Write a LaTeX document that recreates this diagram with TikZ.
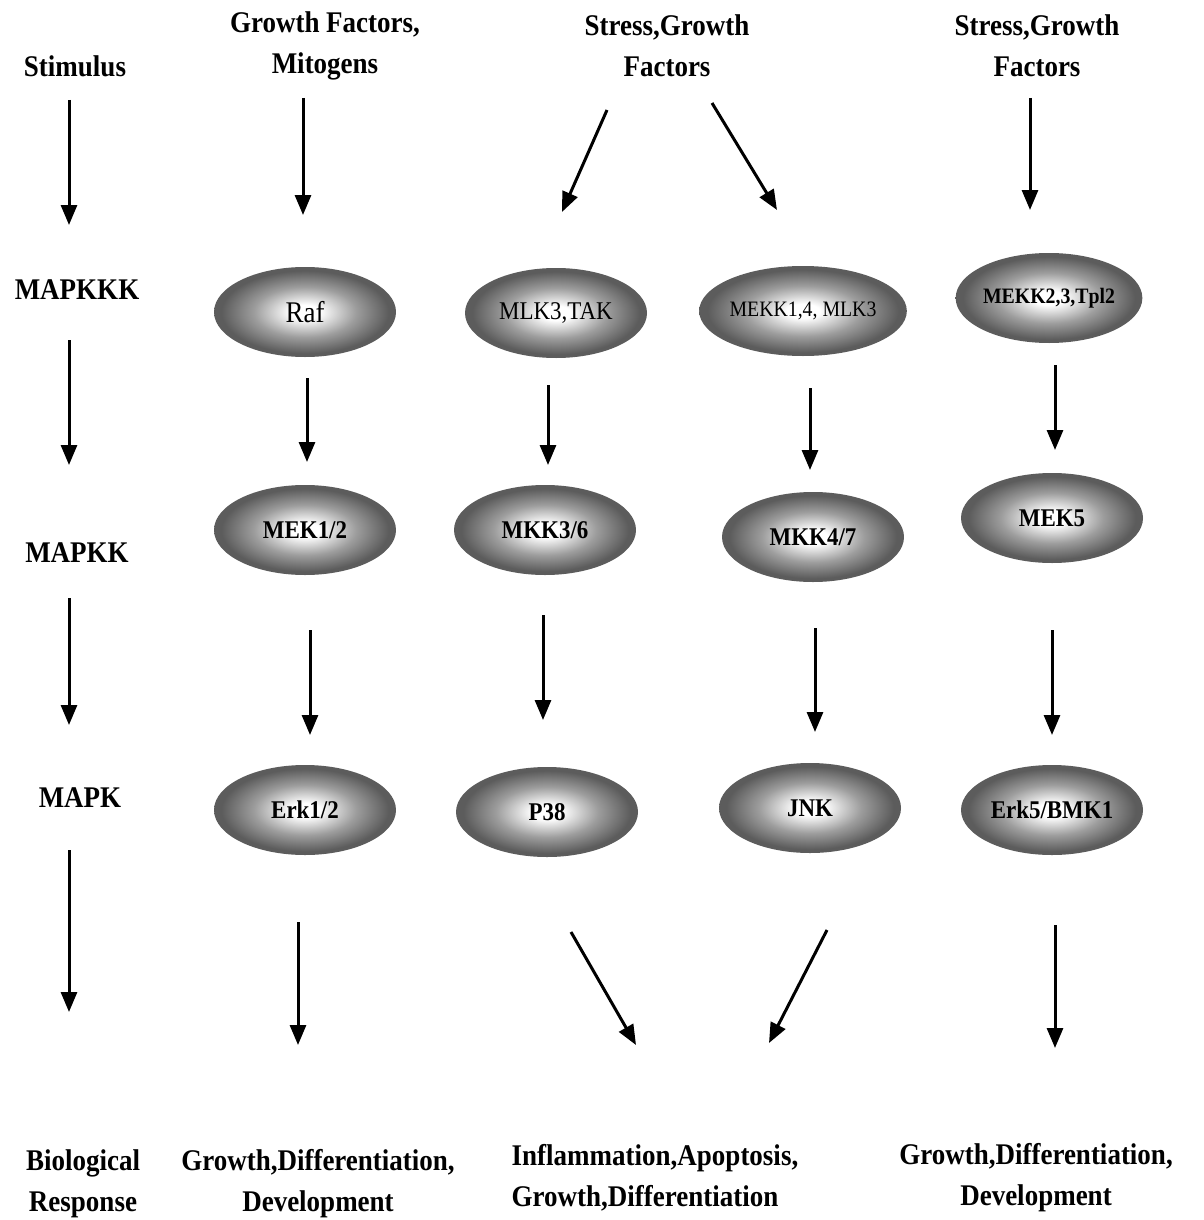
\documentclass[tikz,border=0pt]{standalone}
\usepackage{fontspec}
\setmainfont{Liberation Serif}[FakeStretch=0.9]
\usetikzlibrary{arrows.meta,shapes.geometric}

\definecolor{ovalgray}{RGB}{92,92,92}
\pgfdeclareradialshading{ovalshade}{\pgfpoint{0bp}{0bp}}{color(0bp)=(white); color(4bp)=(white); color(14bp)=(ovalgray!60!white); color(23bp)=(ovalgray); color(50bp)=(ovalgray)}

\tikzset{
	lbl/.style={font=\fontsize{30}{41}\selectfont\bfseries, align=center},
	oval/.style={ellipse, minimum width=182pt, minimum height=90pt, inner sep=0pt, shading=ovalshade, font=\fontsize{25.5}{28}\selectfont\bfseries},
	arr/.style={line width=3pt, -{Triangle[length=20pt,width=16pt]}}
}

\begin{document}
\begin{tikzpicture}[x=1pt,y=-1pt]
	\useasboundingbox (0,0) rectangle (1203,1220);
	\fill[white] (0,0) rectangle (1203,1220);
	
	% left column
	\node[lbl] (stim) at (75,66) {Stimulus};
	\node[lbl] (mapkkk) at (77,290) {MAPKKK};
	\node[lbl] (mapkk) at (77,553) {MAPKK};
	\node[lbl] (mapk) at (80,798) {MAPK};
	\node[lbl] (bio) at (83,1184) {Biological\\Response};
	
	% stimuli
	\node[lbl] (gf) at (325,46) {Growth Factors,\\Mitogens};
	\node[lbl] (sgf1) at (667,46) {Stress,Growth\\Factors};
	\node[lbl] (sgf2) at (1037,46) {Stress,Growth\\Factors};
	
	% MAPKKK
	\node[oval,font=\fontsize{30}{32}\selectfont] (raf) at (305,312) {Raf};
	\node[oval,font=\fontsize{25.5}{28}\selectfont] (mlk) at (556,313) {MLK3,TAK};
	\node[oval,font=\fontsize{22}{24}\selectfont] (mekk14) at (803,311) {MEKK1,4, MLK3};
	\node[oval,font=\fontsize{22}{24}\selectfont\bfseries] (mekk23) at (1049,298) {MEKK2,3,Tpl2};
	
	% MAPKK
	\node[oval] (mek12) at (305,530) {MEK1/2};
	\node[oval] (mkk36) at (545,530) {MKK3/6};
	\node[oval] (mkk47) at (813,537) {MKK4/7};
	\node[oval] (mek5) at (1052,518) {MEK5};
	
	% MAPK
	\node[oval] (erk12) at (305,810) {Erk1/2};
	\node[oval] (p38) at (547,812) {P38};
	\node[oval] (jnk) at (810,808) {JNK};
	\node[oval] (erk5) at (1052,810) {Erk5/BMK1};
	
	% responses
	\node[lbl] (resp1) at (318,1184) {Growth,Differentiation,\\Development};
	\node[lbl,align=left] (resp2) at (655,1178) {Inflammation,Apoptosis,\\Growth,Differentiation};
	\node[lbl] (resp3) at (1036,1178) {Growth,Differentiation,\\Development};
	
	% arrows
	\foreach \n/\xa/\ya/\xb/\yb in {
		s1/69/100/69/225, s2/69/340/69/465, s3/69/598/69/725, s4/69/850/69/1012,
		e1/303/98/303/215, e2/307/378/307/462, e3/310/630/310/735, e4/298/922/298/1045,
		p1/607/110/562/212, p2/548/385/548/465, p3/543/615/543/720, p4/571/932/636/1045,
		j1/712/103/777/210, j2/810/388/810/470, j3/815/628/815/732, j4/827/930/769/1043,
		m1/1030/98/1030/210, m2/1055/365/1055/450, m3/1052/630/1052/735, m4/1055/925/1055/1048}
	{
		\coordinate (\n a) at (\xa,\ya);
		\coordinate (\n b) at (\xb,\yb);
		\draw[arr] (\n a) -- (\n b);
	}
\end{tikzpicture}
\end{document}
